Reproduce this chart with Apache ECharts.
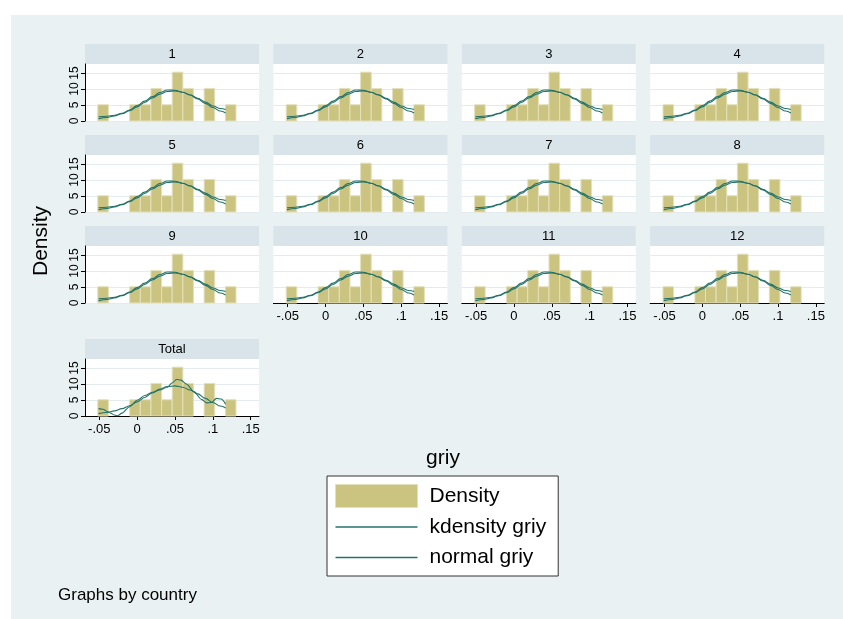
<!DOCTYPE html>
<html>
<head>
<meta charset="utf-8">
<script src="https://cdn.jsdelivr.net/npm/echarts@6/dist/echarts.min.js"></script>
<style>
  html, body { margin: 0; padding: 0; background: #ffffff; }
  #frame { position: absolute; left: 11px; top: 15px; right: 0; bottom: 0; background: #e9f1f3; }
  #chart { position: absolute; left: 0; top: 0; width: 843px; height: 619px; }
</style>
</head>
<body>
<div id="frame"></div>
<div id="chart"></div>
<script>
// Histogram of griy: bin edges and density heights (same for every country)
const binEdges = [-0.0520, -0.0380, -0.0239, -0.0099, 0.0042, 0.0182, 0.0323,
                  0.0463, 0.0604, 0.0744, 0.0885, 0.1025, 0.1166, 0.1306];
const binDensity = [5.08, 0, 0, 5.08, 5.08, 10.17, 5.08, 15.25, 10.17, 0, 10.17, 0, 5.08];

// Panel captions (by country, then the pooled panel)
const panelTitles = ['1', '2', '3', '4', '5', '6', '7', '8', '9', '10', '11', '12', 'Total'];

// Kernel density and normal density curves for a country panel
const curveX = [-0.051, -0.04, -0.03, -0.02, -0.01, 0, 0.01, 0.02, 0.03, 0.04,
                0.05, 0.06, 0.07, 0.08, 0.09, 0.1, 0.11, 0.117];
const kdensityCountry = [1.35, 1.5, 1.8, 2.4, 3.4, 4.8, 6.2, 7.6, 8.9, 9.7,
                         9.6, 9.0, 8.2, 7.1, 5.9, 4.7, 3.9, 3.6];
const normalGriy = [0.75, 1.1, 1.6, 2.3, 3.2, 4.4, 5.8, 7.2, 8.4, 9.2,
                    9.4, 9.0, 8.1, 6.9, 5.5, 4.2, 3.1, 2.5];

// Kernel density of the pooled sample
const kdensityTotalX = [-0.051, -0.045, -0.04, -0.035, -0.03, -0.026, -0.02, -0.01, 0, 0.01,
                        0.02, 0.03, 0.04, 0.046, 0.052, 0.058, 0.065, 0.075, 0.085, 0.092,
                        0.098, 0.105, 0.111, 0.117];
const kdensityTotal = [2.3, 2.1, 1.5, 0.9, 0.3, 0.05, 0.9, 2.9, 4.9, 6.4,
                       7.4, 8.1, 9.0, 10.3, 11.4, 11.2, 10.0, 7.6, 5.2, 4.1,
                       4.2, 5.5, 5.3, 3.7];

// Axis ticks
const xTickValues = [-0.05, 0, 0.05, 0.1, 0.15];
const xTickLabels = ['-.05', '0', '.05', '.1', '.15'];
const yTickValues = [0, 5, 10, 15];
const yTickLabels = ['0', '5', '10', '15'];

// ---- styling and layout ----
const FONT = '"Liberation Sans", Arial, Helvetica, sans-serif';
const BAR_FILL = '#cbc481';
const BAR_EDGE = '#e4e0bb';
const LINE_COLOR = '#23736a';
const STRIP_FILL = '#d8e4ea';
const GRID_LINE = '#e3ebee';
const LEGEND_LINE_ICON = 'path://M0,0H82V1.6H0Z';

const colLeft = c => 85 + c * 188.4;
const rowTop = [44, 135, 226, 339];
const STRIP_H = 20, PLOT_H = 57, PLOT_W = 174;
const X_MIN = -0.0689, X_MAX = 0.161, Y_MAX = 17.8;

const histData = binDensity.map((d, k) => [binEdges[k], binEdges[k + 1], d]);
const kdensData = curveX.map((x, k) => [x, kdensityCountry[k]]);
const normData = curveX.map((x, k) => [x, normalGriy[k]]);
const kdensTotalData = kdensityTotalX.map((x, k) => [x, kdensityTotal[k]]);

function renderBin(params, api) {
  const top = api.coord([api.value(0), api.value(2)]);
  const base = api.coord([api.value(1), 0]);
  if (api.value(2) <= 0) return null;
  return {
    type: 'rect',
    shape: { x: top[0], y: top[1], width: base[0] - top[0], height: base[1] - top[1] },
    style: { fill: BAR_FILL, stroke: BAR_EDGE, lineWidth: 1 }
  };
}

const grids = [], xAxes = [], yAxes = [], series = [], graphics = [];

panelTitles.forEach((title, i) => {
  const isTotal = title === 'Total';
  const col = isTotal ? 0 : i % 4;
  const row = isTotal ? 3 : Math.floor(i / 4);
  const left = colLeft(col);
  const top = rowTop[row];
  const showX = isTotal || (row === 2 && col > 0);
  const showY = col === 0;

  grids.push({
    left: left, top: top + STRIP_H, width: PLOT_W, height: PLOT_H,
    show: true, backgroundColor: '#ffffff', borderWidth: 0
  });

  xAxes.push({
    gridIndex: i, type: 'value', min: X_MIN, max: X_MAX,
    axisLine: { show: showX, onZero: false, lineStyle: { color: '#000', width: 1 } },
    axisTick: { show: showX, length: 4, customValues: xTickValues, lineStyle: { color: '#000' } },
    axisLabel: {
      show: showX, customValues: xTickValues, margin: 7,
      fontSize: 13, fontFamily: FONT, color: '#000',
      formatter: v => {
        const k = xTickValues.findIndex(t => Math.abs(t - v) < 1e-9);
        return k >= 0 ? xTickLabels[k] : '';
      }
    },
    splitLine: { show: false }
  });

  yAxes.push({
    gridIndex: i, type: 'value', min: 0, max: Y_MAX, interval: 5,
    axisLine: { show: showY, onZero: false, lineStyle: { color: '#000', width: 1 } },
    axisTick: { show: showY, length: 4, customValues: yTickValues, lineStyle: { color: '#000' } },
    axisLabel: {
      show: showY, customValues: yTickValues, rotate: 90, margin: 4,
      fontSize: 12, fontFamily: FONT, color: '#000',
      formatter: v => {
        const k = yTickValues.findIndex(t => Math.abs(t - v) < 1e-9);
        return k >= 0 ? yTickLabels[k] : '';
      }
    },
    splitLine: { show: true, lineStyle: { color: GRID_LINE, width: 1 } }
  });

  series.push({
    name: 'Density', type: 'custom', xAxisIndex: i, yAxisIndex: i,
    renderItem: renderBin, data: histData,
    encode: { x: [0, 1], y: 2 },
    itemStyle: { color: BAR_FILL }, silent: true
  });
  series.push({
    name: 'kdensity griy', type: 'line', xAxisIndex: i, yAxisIndex: i,
    data: isTotal ? kdensTotalData : kdensData,
    smooth: isTotal ? 0.3 : 0.4, smoothMonotone: 'x', symbol: 'none',
    lineStyle: { color: LINE_COLOR, width: 1.1 }, itemStyle: { color: LINE_COLOR },
    silent: true, z: 3
  });
  series.push({
    name: 'normal griy', type: 'line', xAxisIndex: i, yAxisIndex: i,
    data: normData, smooth: 0.4, smoothMonotone: 'x', symbol: 'none',
    lineStyle: { color: LINE_COLOR, width: 1.1 }, itemStyle: { color: LINE_COLOR },
    silent: true, z: 3
  });

  // panel caption strip
  graphics.push({
    type: 'rect', shape: { x: left, y: top, width: PLOT_W, height: STRIP_H },
    style: { fill: STRIP_FILL }, silent: true
  });
  graphics.push({
    type: 'text', x: left + PLOT_W / 2, y: top + STRIP_H / 2 + 0.5,
    style: { text: title, fontSize: 13, fontFamily: FONT, fill: '#000',
             align: 'center', verticalAlign: 'middle' },
    silent: true
  });
});

// overall axis titles and note
graphics.push({
  type: 'text', x: 41, y: 241, rotation: Math.PI / 2,
  style: { text: 'Density', fontSize: 21, fontFamily: FONT, fill: '#000',
           align: 'center', verticalAlign: 'middle' }
});
graphics.push({
  type: 'text', x: 443, y: 458,
  style: { text: 'griy', fontSize: 21, fontFamily: FONT, fill: '#000',
           align: 'center', verticalAlign: 'middle' }
});
graphics.push({
  type: 'text', x: 58, y: 595,
  style: { text: 'Graphs by country', fontSize: 17, fontFamily: FONT, fill: '#000',
           align: 'left', verticalAlign: 'middle' }
});

const chart = echarts.init(document.getElementById('chart'), null, { renderer: 'canvas' });
chart.setOption({
  animation: false,
  grid: grids,
  xAxis: xAxes,
  yAxis: yAxes,
  series: series,
  graphic: graphics,
  legend: {
    orient: 'vertical', left: 327, top: 476,
    itemWidth: 82, itemHeight: 23, itemGap: 7.5,
    padding: [8, 12, 7, 8],
    symbolKeepAspect: true,
    backgroundColor: '#ffffff', borderColor: '#333333', borderWidth: 1, borderRadius: 0,
    selectedMode: false,
    textStyle: { fontSize: 21, fontFamily: FONT, color: '#000', lineHeight: 23, padding: [0, 0, 0, 7] },
    data: [
      { name: 'Density', icon: 'rect', itemStyle: { color: BAR_FILL, borderColor: BAR_EDGE, borderWidth: 1 } },
      { name: 'kdensity griy', icon: LEGEND_LINE_ICON, itemStyle: { color: LINE_COLOR, borderWidth: 0 } },
      { name: 'normal griy', icon: LEGEND_LINE_ICON, itemStyle: { color: LINE_COLOR, borderWidth: 0 } }
    ]
  }
});
</script>
</body>
</html>
